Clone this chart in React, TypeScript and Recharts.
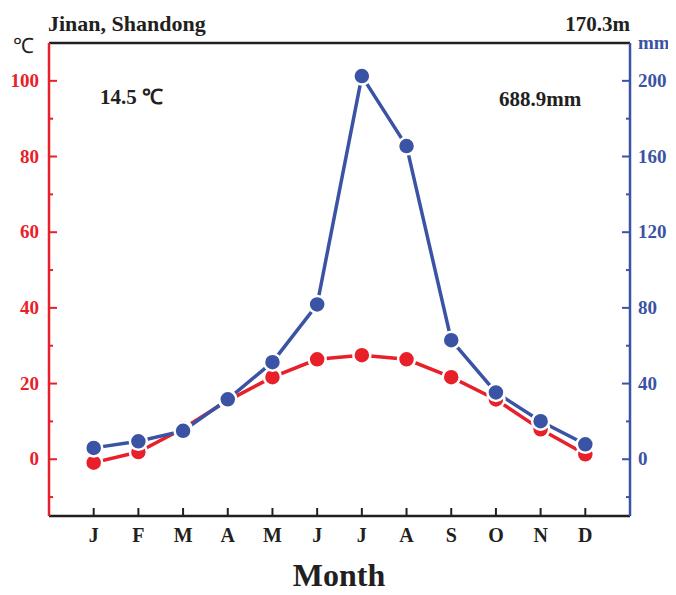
import { LineChart, Line, XAxis, YAxis, ReferenceLine } from 'recharts'

// Jinan, Shandong climate chart: monthly mean temperature and precipitation
const months = ['J', 'F', 'M', 'A', 'M', 'J', 'J', 'A', 'S', 'O', 'N', 'D']
const temperature = [-0.9, 1.9, 8.1, 15.5, 21.7, 26.4, 27.5, 26.4, 21.7, 15.8, 7.9, 1.3]
const precipitation = [6.0, 9.5, 15.0, 31.7, 51.3, 81.8, 202.5, 165.5, 62.9, 35.3, 20.1, 7.9]

const tempTicks = [-10, 0, 10, 20, 30, 40, 50, 60, 70, 80, 90, 100]
const precipTicks = [-20, 0, 20, 40, 60, 80, 100, 120, 140, 160, 180, 200]

const RED = '#e8202a'
const BLUE = '#3a53a4'
const INK = '#231f20'
const FONT = '"Liberation Serif", "Times New Roman", serif'

const data = months.map((m, i) => ({
  x: i + 1,
  month: m,
  temp: temperature[i],
  precip: precipitation[i],
}))

function LeftTick(props: any) {
  const { x, y, payload } = props
  const major = payload.value % 20 === 0
  const ax = x + 10
  return (
    <g>
      <line x1={ax} x2={ax + (major ? 8 : 4)} y1={y} y2={y} stroke={RED} strokeWidth={2} />
      {major && (
        <text x={x} y={y} dy={6} textAnchor="end" fill={RED} fontSize={19} fontWeight="bold" fontFamily={FONT}>
          {payload.value}
        </text>
      )}
    </g>
  )
}

function RightTick(props: any) {
  const { x, y, payload } = props
  const major = payload.value % 40 === 0
  const ax = x - 8
  return (
    <g>
      <line x1={ax} x2={ax - (major ? 8 : 4)} y1={y} y2={y} stroke={BLUE} strokeWidth={2} />
      {major && (
        <text x={x} y={y} dy={6} textAnchor="start" fill={BLUE} fontSize={19} fontWeight="bold" fontFamily={FONT}>
          {payload.value}
        </text>
      )}
    </g>
  )
}

function MonthTick(props: any) {
  const { x, y, payload } = props
  const ay = y - 12
  return (
    <g>
      <line x1={x} x2={x} y1={ay} y2={ay - 8} stroke={INK} strokeWidth={2} />
      <text x={x} y={ay} dy={26} textAnchor="middle" fill={INK} fontSize={20} fontWeight="bold" fontFamily={FONT}>
        {months[payload.value - 1]}
      </text>
    </g>
  )
}

export default function App() {
  return (
    <div style={{ margin: '-8px', position: 'relative', width: 676, height: 595, background: 'white', overflow: 'hidden' }}>
      <LineChart width={676} height={595} data={data} margin={{ top: 43, right: 6, bottom: 39, left: 9 }}>
        <XAxis
          dataKey="x"
          type="number"
          domain={[0, 13]}
          ticks={[1, 2, 3, 4, 5, 6, 7, 8, 9, 10, 11, 12]}
          tick={<MonthTick />}
          tickLine={false}
          tickSize={0}
          tickMargin={12}
          height={40}
          axisLine={{ stroke: INK, strokeWidth: 2.5 }}
        />
        <YAxis
          yAxisId="t"
          orientation="left"
          domain={[-15, 110]}
          ticks={tempTicks}
          tick={<LeftTick />}
          tickLine={false}
          tickSize={0}
          tickMargin={10}
          width={40}
          axisLine={{ stroke: RED, strokeWidth: 2.5 }}
          interval={0}
        />
        <YAxis
          yAxisId="p"
          orientation="right"
          domain={[-30, 220]}
          ticks={precipTicks}
          tick={<RightTick />}
          tickLine={false}
          tickSize={0}
          tickMargin={8}
          width={40}
          axisLine={{ stroke: BLUE, strokeWidth: 2.5 }}
          interval={0}
        />
        <ReferenceLine yAxisId="t" y={110} stroke={INK} strokeWidth={2.5} ifOverflow="visible" />
        <Line
          yAxisId="t"
          dataKey="temp"
          stroke={RED}
          strokeWidth={3.5}
          dot={{ r: 8.5, fill: RED, stroke: 'white', strokeWidth: 2.5 }}
          isAnimationActive={false}
        />
        <Line
          yAxisId="p"
          dataKey="precip"
          stroke={BLUE}
          strokeWidth={3.5}
          dot={{ r: 8.5, fill: BLUE, stroke: 'white', strokeWidth: 2.5 }}
          isAnimationActive={false}
        />
      </LineChart>
      <svg width={676} height={595} style={{ position: 'absolute', left: 0, top: 0, pointerEvents: 'none' }}>
        <g fontFamily={FONT} fontWeight="bold">
          <text x={48} y={31} fontSize={22} fill={INK}>Jinan, Shandong</text>
          <text x={630} y={31} fontSize={21} fill={INK} textAnchor="end">170.3m</text>
          <text x={13} y={53} fontSize={21} fill={INK} fontWeight="normal">℃</text>
          <text x={638} y={49} fontSize={19} fill={BLUE}>mm</text>
          <text x={100} y={104} fontSize={21} fill={INK}>14.5 ℃</text>
          <text x={499} y={106} fontSize={21} fill={INK}>688.9mm</text>
          <text x={339} y={586} fontSize={32} fill={INK} textAnchor="middle">Month</text>
        </g>
      </svg>
    </div>
  )
}
